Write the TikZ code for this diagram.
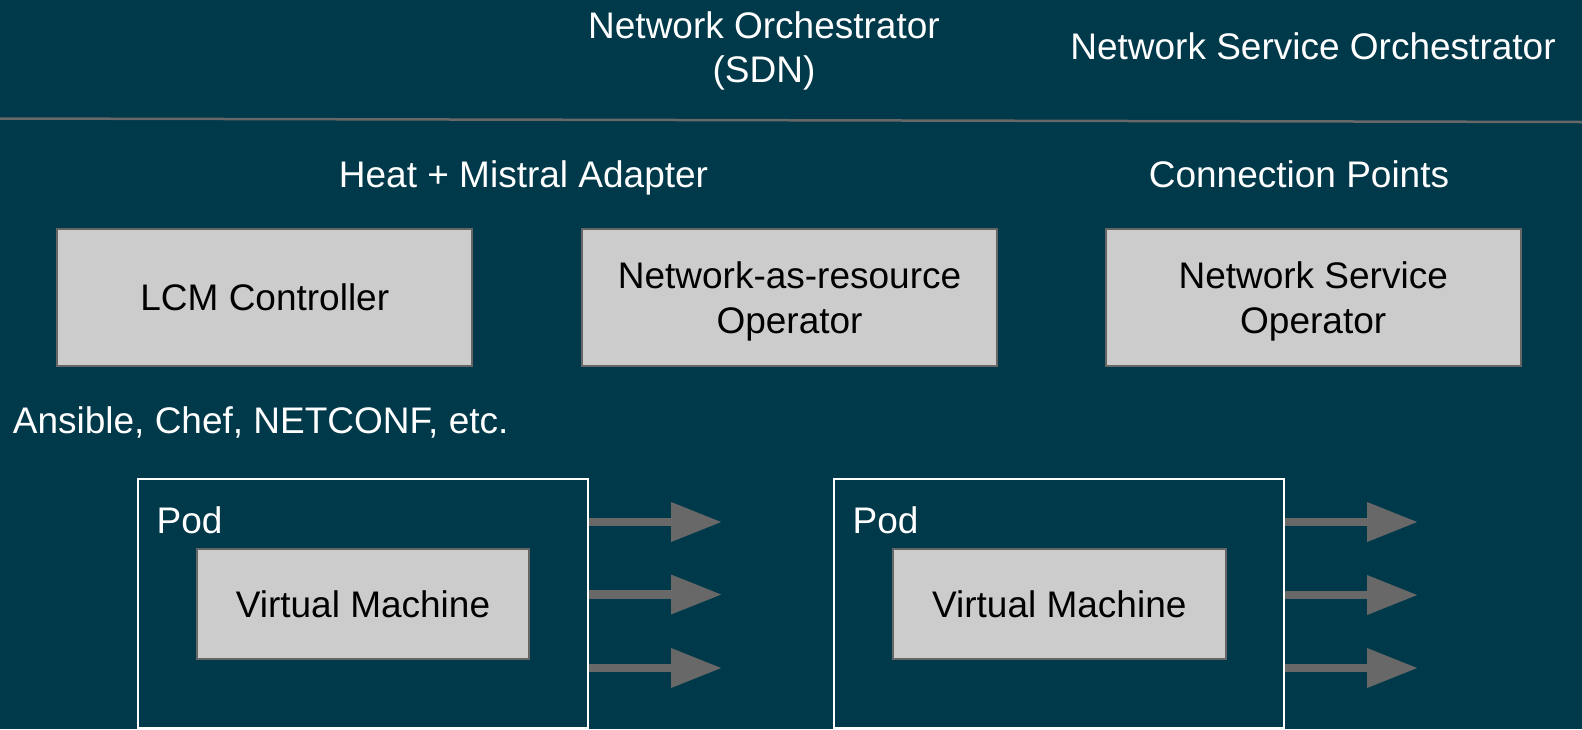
\documentclass[tikz,border=0pt]{standalone}
\usepackage{fontspec}
\setmainfont{Liberation Sans}
\usetikzlibrary{arrows.meta}
\definecolor{bgc}{RGB}{0,57,74}
\definecolor{boxfill}{RGB}{204,204,204}
\definecolor{boxline}{RGB}{102,102,102}
\definecolor{arrc}{RGB}{104,104,104}
\tikzset{
  lbl/.style={text=white, inner sep=0pt, font=\fontsize{37}{44.5}\selectfont},
  graybox/.style={draw=boxline, line width=2pt, fill=boxfill, inner sep=0pt,
    align=center, text=black, text depth=-5pt, font=\fontsize{37}{45.5}\selectfont},
  podbox/.style={draw=white, line width=2pt, inner sep=0pt},
  podarrow/.style={draw=arrc, line width=8.5pt, -{Triangle[length=51pt,width=37.5pt]}}
}
\begin{document}
\begin{tikzpicture}[x=1pt,y=-1pt]
\useasboundingbox (0,0) rectangle (1582,729);
\fill[bgc] (0,0) rectangle (1582,729);
% divider
\coordinate (divL) at (0,118.5);
\coordinate (divR) at (1582,122);
\draw[arrc, line width=2.5pt] (divL) -- (divR);
% top labels
\node[lbl, anchor=base, align=center] (netorch) at (764,82.5) {Network Orchestrator\\(SDN)};
\node[lbl, anchor=base] (nsorch) at (1313,59.5) {Network Service Orchestrator};
\node[lbl, anchor=base] (heat) at (523.5,187) {Heat + Mistral Adapter};
\node[lbl, anchor=base] (cpts) at (1299,187) {Connection Points};
% boxes
\node[graybox, minimum width=415pt, minimum height=137pt] (lcm) at (264.8,297.5) {LCM Controller};
\node[graybox, minimum width=415pt, minimum height=137pt] (nar) at (789.5,297.5) {Network-as-resource\\Operator};
\node[graybox, minimum width=415pt, minimum height=137pt] (nso) at (1313.2,297.5) {Network Service\\Operator};
% ansible
\node[lbl, anchor=base west] (ans) at (12.7,433) {Ansible, Chef, NETCONF, etc.};
% pods
\node[podbox, minimum width=450pt, minimum height=248.5pt] (podL) at (363.3,603.3) {};
\node[podbox, minimum width=449.7pt, minimum height=248.5pt] (podR) at (1059.2,603.3) {};
\node[lbl, anchor=base west] (podLlbl) at (156.5,533) {Pod};
\node[lbl, anchor=base west] (podRlbl) at (852.5,533) {Pod};
\node[graybox, minimum width=332.6pt, minimum height=110.3pt] (vmL) at (363,603.9) {Virtual Machine};
\node[graybox, minimum width=332.7pt, minimum height=110.3pt] (vmR) at (1059.3,603.9) {Virtual Machine};
% arrow tips
\coordinate (tL1) at (722,522);
\coordinate (tL2) at (722,594.5);
\coordinate (tL3) at (722,668);
\coordinate (tR1) at (1418,522);
\coordinate (tR2) at (1418,595);
\coordinate (tR3) at (1418,668);
\draw[podarrow] (podL.east |- tL1) -- (tL1);
\draw[podarrow] (podL.east |- tL2) -- (tL2);
\draw[podarrow] (podL.east |- tL3) -- (tL3);
\draw[podarrow] (podR.east |- tR1) -- (tR1);
\draw[podarrow] (podR.east |- tR2) -- (tR2);
\draw[podarrow] (podR.east |- tR3) -- (tR3);
\end{tikzpicture}
\end{document}
